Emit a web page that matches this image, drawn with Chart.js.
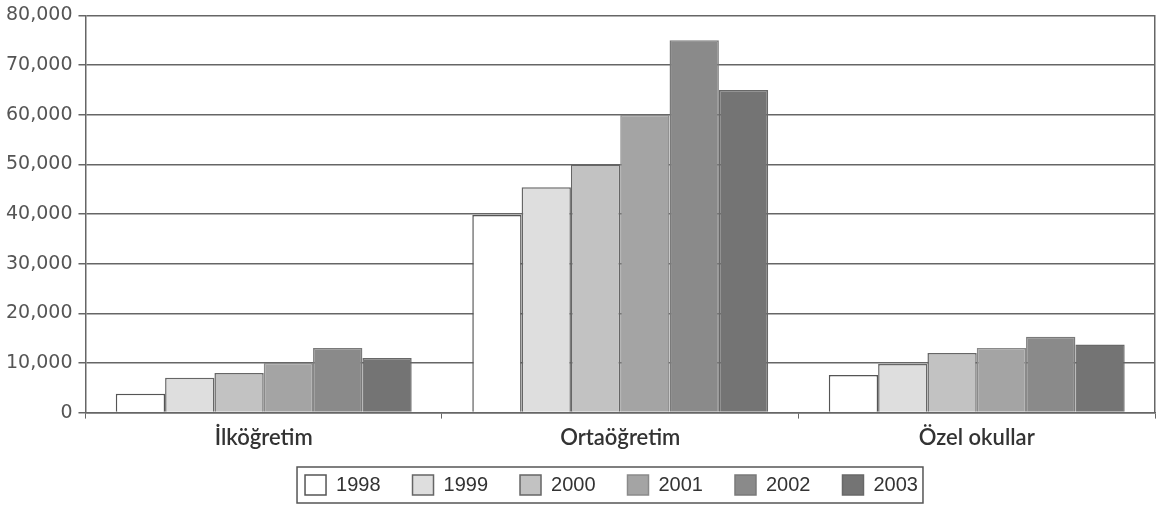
<!DOCTYPE html>
<html>
<head>
<meta charset="utf-8">
<script src="https://cdn.jsdelivr.net/npm/chart.js@4"></script>
<style>
  html, body { margin: 0; padding: 0; background: #fff; }
  #wrap { width: 1161px; height: 508px; }
</style>
</head>
<body>
<div id="wrap"><canvas id="myChart" width="1161" height="508"></canvas></div>
<script>
const categories = ['İlköğretim', 'Ortaöğretim', 'Özel okullar'];
const years = ['1998', '1999', '2000', '2001', '2002', '2003'];
const v1998 = [3800, 39800, 7600];
const v1999 = [7000, 45400, 9800];
const v2000 = [8000, 50000, 12000];
const v2001 = [10000, 60000, 13000];
const v2002 = [13000, 75000, 15300];
const v2003 = [11000, 65000, 13700];
const yTicks = [0, 10000, 20000, 30000, 40000, 50000, 60000, 70000, 80000];

const fills   = ['#ffffff', '#dedede', '#c2c2c2', '#a4a4a4', '#8a8a8a', '#747474'];
const borders = ['#555555', '#666666', '#666666', '#8a8a8a', '#7a7a7a', '#686868'];
const series  = [v1998, v1999, v2000, v2001, v2002, v2003];

// legend sits a bit right of centre in the original, with a frame round it
const legendBox = {
    id: 'legendBox',
    afterLayout(chart) {
        const lg = chart.legend;
        lg.left += 34; lg.right += 34;
        lg.top += 6; lg.bottom += 6;
    },
    afterDraw(chart) {
        const boxes = chart.legend.legendHitBoxes;
        if (!boxes || !boxes.length) return;
        const ctx = chart.ctx;
        const left = boxes[0].left - 8;
        const last = boxes[boxes.length - 1];
        const right = last.left + last.width + 5;
        const top = boxes[0].top - 8;
        const bottom = boxes[0].top + boxes[0].height + 8;
        ctx.save();
        ctx.strokeStyle = '#555';
        ctx.lineWidth = 1.5;
        ctx.strokeRect(left, top, right - left, bottom - top);
        ctx.restore();
    }
};

const context = document.getElementById('myChart').getContext('2d');
const myChart = new Chart(context, {
    type: 'bar',
    data: {
        labels: categories,
        datasets: years.map((y, i) => ({
            label: y,
            data: series[i],
            backgroundColor: fills[i],
            borderColor: borders[i],
            borderWidth: 1.5,
            categoryPercentage: 0.83,
            barPercentage: 1.0
        }))
    },
    options: {
        responsive: false,
        animation: false,
        layout: { padding: { top: 0, right: 6, left: 0, bottom: 9 } },
        plugins: {
            tooltip: { enabled: false },
            legend: {
                position: 'bottom',
                labels: {
                    font: { family: 'Liberation Sans, Arial, sans-serif', size: 20 },
                    color: '#333',
                    boxWidth: 21,
                    boxHeight: 20,
                    padding: 12,
                    // wider gaps between items, as in the original
                    generateLabels: (chart) => Chart.defaults.plugins.legend.labels.generateLabels(chart)
                        .map((l, i, arr) => ({ ...l, text: i < arr.length - 1 ? l.text + '\u2002\u2002' : l.text }))
                }
            }
        },
        scales: {
            x: {
                grid: { drawOnChartArea: false, offset: true, drawTicks: true, tickLength: 6, color: '#666' },
                border: { color: '#666', width: 1.5 },
                ticks: {
                    font: { family: 'Lato, "Open Sans", sans-serif', size: 22, weight: '600' },
                    color: '#333',
                    padding: 6
                }
            },
            y: {
                min: 0,
                max: 80000,
                afterBuildTicks: (axis) => { axis.ticks = yTicks.map(v => ({ value: v })); },
                grid: { color: '#666', lineWidth: 1.5, tickLength: 7 },
                border: { color: '#666', width: 1.5 },
                ticks: {
                    font: { family: 'DejaVu Sans, sans-serif', size: 19, lineHeight: 1 },
                    color: '#555',
                    padding: 6,
                    callback: (v) => v.toLocaleString('en-US')
                }
            },
            yRight: {
                position: 'right',
                min: 0,
                max: 80000,
                grid: { display: false },
                border: { color: '#666', width: 1.5 },
                ticks: { display: false },
                afterFit: (axis) => { axis.width = 0; }
            }
        }
    },
    plugins: [legendBox]
});
</script>
</body>
</html>
